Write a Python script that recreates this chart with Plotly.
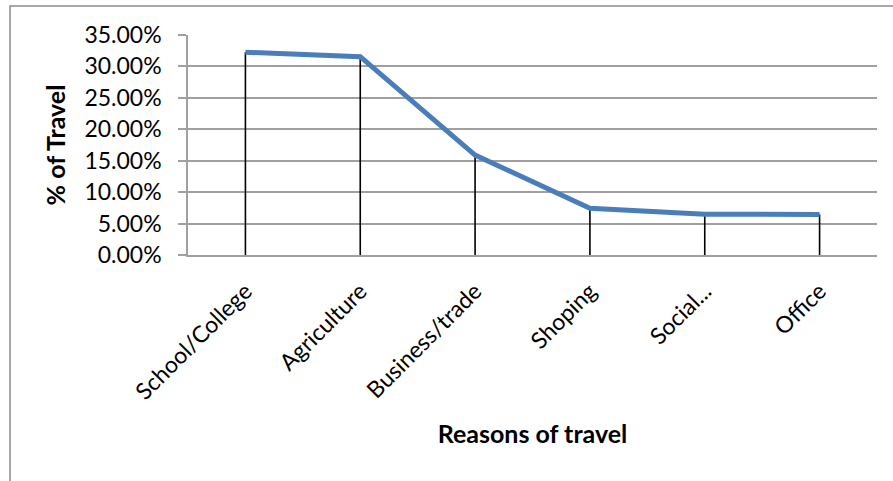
import plotly.graph_objects as go

# Share of trips by purpose
reasons = ["School/College", "Agriculture", "Business/trade", "Shoping", "Social...", "Office"]
share = [0.3225, 0.3155, 0.1590, 0.0743, 0.0650, 0.0645]

y_ticks = [0.0, 0.05, 0.10, 0.15, 0.20, 0.25, 0.30, 0.35]

FONT = "Lato, Calibri, Carlito, sans-serif"

# vertical drop lines from each point down to the category axis
drop_x, drop_y = [], []
for r, v in zip(reasons, share):
    drop_x += [r, r, None]
    drop_y += [0, v, None]

fig = go.Figure()
fig.add_trace(go.Scatter(
    x=drop_x, y=drop_y, mode="lines",
    line=dict(color="#000000", width=1.6),
    hoverinfo="skip", showlegend=False,
))
fig.add_trace(go.Scatter(
    x=reasons, y=share, mode="lines",
    line=dict(color="#4A7EBB", width=5),
    showlegend=False,
))

fig.update_layout(
    width=893, height=481,
    margin=dict(l=188, r=16, t=35, b=226),
    paper_bgcolor="white", plot_bgcolor="white",
    font=dict(family=FONT, size=23, color="#000000"),
    shapes=[dict(
        type="rect", xref="paper", yref="paper",
        x0=-0.2583, x1=1.05, y0=-1.10, y1=1.1318,
        line=dict(color="#8C8C8C", width=1.5), fillcolor="rgba(0,0,0,0)",
        layer="below",
    )],
)

fig.update_xaxes(
    type="category", range=[-0.5, len(reasons) - 0.5],
    tickangle=-45, ticks="", showgrid=False,
    showline=True, linecolor="#A0A0A0", linewidth=1.5,
    tickfont=dict(family=FONT, size=23), ticklabelstandoff=12,
    title=dict(text="<b>Reasons of travel</b>", font=dict(family=FONT, size=25), standoff=22),
)
fig.update_yaxes(
    range=[0, 0.35], tickvals=y_ticks, tickformat=".2%",
    showgrid=True, gridcolor="#A0A0A0", gridwidth=1.5,
    ticks="outside", ticklen=8, tickcolor="#A0A0A0", tickwidth=1.5,
    showline=True, linecolor="#A0A0A0", linewidth=1.5,
    zeroline=False,
    tickfont=dict(family=FONT, size=23), ticklabelstandoff=12,
    title=dict(text="<b>% of Travel</b>", font=dict(family=FONT, size=25), standoff=12),
)

fig.write_html("out.html")
